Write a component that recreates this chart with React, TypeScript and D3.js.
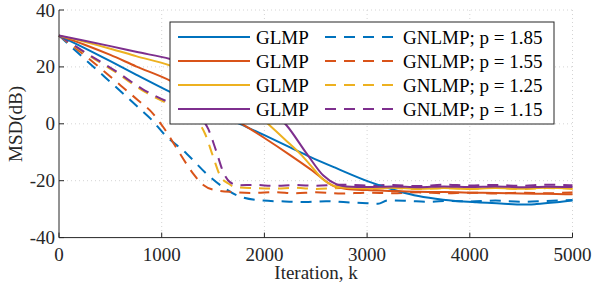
import React from 'react';
import * as d3 from 'd3';

// iteration k, MSD in dB
const glmp185: [number, number][] = [
  [0, 31], [250, 26.6], [500, 22], [750, 17.3], [1081, 11.2], [1400, 5.6], [1760, 0],
  [2000, -4], [2250, -8.3], [2450, -11.7], [2700, -15.6], [3030, -20.5], [3300, -23.6],
  [3500, -25.4], [3740, -26.7], [4067, -27.6], [4300, -28], [4521, -28.4], [4650, -28.2],
  [4846, -27.6], [5000, -27],
];
const glmp155: [number, number][] = [
  [0, 31], [250, 27.8], [500, 24.2], [750, 20.2], [1081, 15.2], [1400, 8.6], [1780, 0],
  [2000, -5], [2250, -11], [2450, -16], [2680, -22], [2800, -22.9], [3000, -23.3],
  [3250, -23.6], [3500, -23.9], [3750, -24], [4000, -24.2], [4250, -24.3], [4500, -24.5],
  [4750, -24.6], [5000, -24.8],
];
const glmp125: [number, number][] = [
  [0, 31], [250, 28.8], [500, 26.4], [750, 23.8], [1081, 20.5], [1400, 15.8], [1700, 10],
  [1900, 4.5], [2071, -1.2], [2200, -5.5], [2347, -10.5], [2450, -14.6], [2558, -19.1],
  [2668, -21.7], [2750, -22.4], [3000, -22.7], [3250, -22.5], [3500, -22.8], [3750, -22.6],
  [4000, -22.9], [4250, -22.6], [4500, -22.8], [4750, -22.5], [5000, -22.8],
];
const glmp115: [number, number][] = [
  [0, 31], [250, 29.2], [500, 27.3], [750, 25.3], [1081, 22.8], [1400, 19.3], [1700, 14.5],
  [2000, 6.5], [2217, -0.6], [2412, -10.5], [2574, -18.2], [2704, -21.3], [2800, -22],
  [3000, -22.2], [3250, -22], [3500, -22.3], [3750, -22], [4000, -22.2], [4250, -22],
  [4500, -22.3], [4750, -22.1], [5000, -22.2],
];

const gnlmp185: [number, number][] = [
  [0, 31], [250, 22.8], [448, 16.4], [610, 11.1], [789, 5.2], [902, 1.4], [1016, -3.3],
  [1243, -10.5], [1438, -17.6], [1600, -22.3], [1762, -25.6], [1989, -27], [2200, -27.3],
  [2400, -27.5], [2600, -27.2], [2800, -27.6], [3000, -27.9], [3106, -28.1], [3200, -26.9],
  [3400, -27.1], [3600, -27.4], [3800, -27.1], [4000, -27.3], [4250, -27], [4500, -27.4],
  [4750, -27.1], [5000, -26.8],
];
const gnlmp155: [number, number][] = [
  [0, 31], [351, 21.1], [600, 13.5], [772, 8.2], [886, 4.7], [1016, -1.2], [1178, -10.5],
  [1308, -17.6], [1405, -21.5], [1535, -23.4], [1700, -24], [1900, -24.3], [2100, -24],
  [2300, -24.4], [2500, -24.1], [2750, -24.5], [3000, -24.2], [3250, -24.4], [3500, -24.1],
  [3750, -24.4], [4000, -24.2], [4250, -24.5], [4500, -24.2], [4750, -24.4], [5000, -24.1],
];
const gnlmp125: [number, number][] = [
  [0, 31], [250, 24.9], [545, 18.3], [837, 11.2], [1032, 7.6], [1200, 5], [1320, 2.2],
  [1422, -3.5], [1500, -11.5], [1568, -18.2], [1649, -21], [1720, -22.3], [1900, -22.6],
  [2100, -22.8], [2300, -22.5], [2500, -22.9], [2750, -22.6], [3000, -22.9], [3250, -22.6],
  [3500, -22.9], [3750, -22.6], [4000, -22.8], [4250, -22.5], [4500, -22.9], [4750, -22.6],
  [5000, -22.8],
];
const gnlmp115: [number, number][] = [
  [0, 31], [250, 25.2], [545, 18.7], [837, 11.7], [1032, 8.2], [1200, 6.1], [1330, 3.6],
  [1453, -1.8], [1530, -9.5], [1600, -17], [1665, -20.5], [1750, -21.6], [1900, -21.5],
  [2100, -21.8], [2300, -21.5], [2500, -21.8], [2750, -21.4], [3000, -21.7], [3250, -21.5],
  [3500, -21.9], [3750, -21.4], [4000, -21.7], [4250, -21.5], [4500, -21.8], [4750, -21.4],
  [5000, -21.6],
];

const xTicks = [0, 1000, 2000, 3000, 4000, 5000];
const yTicks = [-40, -20, 0, 20, 40];
const pValues = ['1.85', '1.55', '1.25', '1.15'];
const colors = ['#0072BD', '#D95319', '#EDB120', '#7E2F8E'];

const solidSeries = [glmp185, glmp155, glmp125, glmp115];
const dashedSeries = [gnlmp185, gnlmp155, gnlmp125, gnlmp115];

const FONT = '"Liberation Serif", "Times New Roman", serif';
const DASH = '11,8';

export default function App() {
  const x = d3.scaleLinear().domain([0, 5000]).range([59, 572.5]);
  const y = d3.scaleLinear().domain([-40, 40]).range([237.6, 10]);

  const line = d3.line<[number, number]>()
    .x(d => x(d[0]))
    .y(d => y(d[1]))
    .curve(d3.curveMonotoneX);

  const axisColor = '#262626';
  const lg = { x0: 170, y0: 22, x1: 554, y1: 124 };
  const rowY = (i: number) => 37 + i * 24;

  return (
    <svg width={593} height={286} style={{ position: 'absolute', left: 0, top: 0, background: '#fff' }}
      fontFamily={FONT}>
      {/* grid */}
      <g stroke="#d4d4d4" strokeWidth={1} strokeDasharray="1,3">
        {xTicks.filter(t => t > 0).map(t => (
          <line key={'gx' + t} x1={x(t)} x2={x(t)} y1={y(40)} y2={y(-40)} />
        ))}
        {yTicks.filter(t => t > -40).map(t => (
          <line key={'gy' + t} x1={x(0)} x2={x(5000)} y1={y(t)} y2={y(t)} />
        ))}
      </g>

      {/* curves */}
      <g fill="none" strokeWidth={2}>
        {dashedSeries.map((s, i) => (
          <path key={'d' + i} d={line(s) || ''} stroke={colors[i]} strokeDasharray={DASH} />
        ))}
        {solidSeries.map((s, i) => (
          <path key={'s' + i} d={line(s) || ''} stroke={colors[i]} />
        ))}
      </g>

      {/* axes */}
      <g stroke={axisColor} strokeWidth={1} fill="none">
        <line x1={x(0)} x2={x(0)} y1={y(40)} y2={y(-40)} />
        <line x1={x(0)} x2={x(5000)} y1={y(-40)} y2={y(-40)} />
        {xTicks.map(t => (
          <line key={'tx' + t} x1={x(t)} x2={x(t)} y1={y(-40)} y2={y(-40) - 5} />
        ))}
        {yTicks.map(t => (
          <line key={'ty' + t} x1={x(0)} x2={x(0) + 5} y1={y(t)} y2={y(t)} />
        ))}
      </g>
      <g fill={axisColor} fontSize={19}>
        {xTicks.map(t => (
          <text key={'lx' + t} x={x(t)} y={261} textAnchor="middle">{t}</text>
        ))}
        {yTicks.map(t => (
          <text key={'ly' + t} x={55} y={y(t) + 6.5} textAnchor="end">{t}</text>
        ))}
        <text x={316} y={279} textAnchor="middle">Iteration, k</text>
        <text transform={`translate(22,124) rotate(-90)`} textAnchor="middle">MSD(dB)</text>
      </g>

      {/* legend */}
      <rect x={lg.x0} y={lg.y0} width={lg.x1 - lg.x0} height={lg.y1 - lg.y0}
        fill="#fff" stroke="#262626" strokeWidth={1} />
      {pValues.map((p, i) => (
        <g key={'lg' + p}>
          <line x1={178} x2={250} y1={rowY(i)} y2={rowY(i)} stroke={colors[i]} strokeWidth={2} />
          <text x={256} y={rowY(i) + 6.5} fontSize={19} fill="#000">GLMP</text>
          <line x1={325} x2={396} y1={rowY(i)} y2={rowY(i)} stroke={colors[i]} strokeWidth={2}
            strokeDasharray={DASH} />
          <text x={403} y={rowY(i) + 6.5} fontSize={19} fill="#000">{`GNLMP; p = ${p}`}</text>
        </g>
      ))}
    </svg>
  );
}
